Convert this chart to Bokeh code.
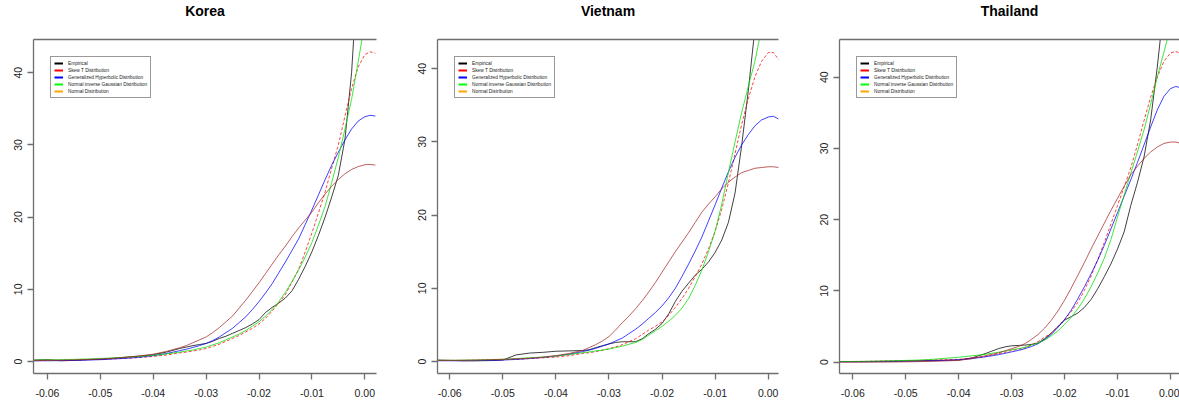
from bokeh.plotting import figure
from bokeh.models import Range1d, LinearAxis, Legend, LegendItem, FixedTicker, NumeralTickFormatter
from bokeh.layouts import row
from bokeh.embed import file_html
from bokeh.resources import INLINE

# ---------------- data ----------------
X = [-0.0625, -0.06, -0.0575, -0.055, -0.0525, -0.05, -0.0475, -0.045, -0.0425, -0.04, -0.0375,
     -0.035, -0.03375, -0.0325, -0.03125, -0.03, -0.02875, -0.0275, -0.02625, -0.025, -0.02375,
     -0.0225, -0.02125, -0.02, -0.01875, -0.0175, -0.01625, -0.015, -0.01375, -0.0125, -0.01125,
     -0.01, -0.00875, -0.0075, -0.00625, -0.005, -0.00375, -0.0025, -0.00125, 0.0, 0.001, 0.002]

titles = ["Korea", "Vietnam", "Thailand"]

korea_emp = [0.2, 0.25, 0.1, 0.15, 0.25, 0.3, 0.45, 0.6, 0.75, 0.95, 1.3,
             1.8, 2.0, 2.2, 2.35, 2.5, 2.8, 3.2, 3.5, 3.9, 4.3, 4.7, 5.2, 5.8, 6.8, 7.5, 8.1, 8.8,
             9.8, 11.4, 13.2, 15.2, 17.5, 20.0, 22.8, 25.8, 30.8, 40.0, 55, 70, 80, 90]
korea_skt = [0.15, 0.15, 0.18, 0.2, 0.25, 0.3, 0.37, 0.45, 0.55, 0.7, 0.9,
             1.2, 1.3, 1.45, 1.6, 1.8, 2.1, 2.4, 2.8, 3.2, 3.6, 4.1, 4.6, 5.2, 6.0, 7.0, 8.1, 9.3,
             11.0, 12.8, 15.2, 17.8, 20.6, 23.5, 26.8, 30.0, 34.0, 37.8, 40.8, 42.5, 42.9, 42.7]
korea_gh = [0.1, 0.1, 0.12, 0.15, 0.2, 0.25, 0.35, 0.45, 0.6, 0.8, 1.1,
            1.5, 1.7, 1.95, 2.2, 2.5, 2.9, 3.4, 4.0, 4.6, 5.4, 6.2, 7.2, 8.3, 9.5, 10.8, 12.3, 13.8,
            15.4, 17.0, 19.0, 21.0, 23.1, 25.2, 27.2, 29.0, 30.7, 32.2, 33.3, 33.9, 34.1, 34.0]
korea_nig = [0.2, 0.22, 0.25, 0.3, 0.35, 0.42, 0.5, 0.6, 0.7, 0.85, 1.05,
             1.3, 1.45, 1.6, 1.8, 2.0, 2.3, 2.6, 3.0, 3.4, 3.8, 4.3, 4.9, 5.5, 6.3, 7.2, 8.3, 9.6,
             11.1, 12.7, 14.5, 16.5, 18.9, 21.5, 24.8, 28.3, 32.2, 36.3, 41.5, 47.0, 51, 55]
korea_norm = [0.1, 0.15, 0.18, 0.22, 0.28, 0.35, 0.45, 0.6, 0.78, 1.0, 1.4,
              1.9, 2.2, 2.6, 3.0, 3.4, 4.0, 4.7, 5.5, 6.3, 7.4, 8.5, 9.7, 10.9, 12.2, 13.5, 14.8, 16.0,
              17.3, 18.5, 19.6, 20.7, 22.0, 23.2, 24.3, 25.2, 26.0, 26.6, 27.0, 27.25, 27.3, 27.2]

vietnam_emp = [0.2, 0.15, 0.1, 0.1, 0.12, 0.2, 0.9, 1.15, 1.25, 1.4, 1.45,
               1.5, 1.6, 1.9, 2.15, 2.4, 2.6, 2.7, 2.7, 2.7, 3.1, 3.8, 4.4, 5.2, 6.5, 8.2, 9.6, 10.7,
               11.8, 12.6, 13.6, 14.9, 16.6, 19.0, 23.0, 29.5, 37.0, 45.5, 60, 80, 90, 95]
vietnam_skt = [0.15, 0.15, 0.15, 0.18, 0.2, 0.25, 0.3, 0.4, 0.5, 0.6, 0.8,
               1.1, 1.2, 1.35, 1.55, 1.75, 2.0, 2.3, 2.7, 3.1, 3.7, 4.3, 4.8, 5.4, 6.3, 7.4, 8.6, 10.0,
               11.6, 13.3, 15.4, 17.8, 20.8, 24.4, 28.4, 32.4, 35.9, 38.9, 41.0, 42.2, 42.2, 41.2]
vietnam_gh = [0.1, 0.1, 0.1, 0.12, 0.15, 0.2, 0.28, 0.4, 0.55, 0.75, 1.0,
              1.35, 1.55, 1.8, 2.1, 2.4, 2.8, 3.2, 3.8, 4.4, 5.1, 5.9, 6.7, 7.6, 8.7, 10.0, 11.6, 13.3,
              15.1, 17.0, 19.2, 21.4, 23.7, 25.9, 27.9, 29.6, 31.0, 32.2, 33.0, 33.4, 33.5, 33.1]
vietnam_nig = [0.15, 0.15, 0.18, 0.2, 0.25, 0.3, 0.4, 0.5, 0.6, 0.75, 0.95,
               1.2, 1.3, 1.45, 1.55, 1.7, 1.9, 2.1, 2.35, 2.6, 3.0, 3.6, 4.2, 4.8, 5.5, 6.3, 7.3, 8.6,
               10.4, 12.5, 15.0, 17.8, 21.5, 25.8, 30.0, 34.0, 37.6, 41.0, 45.5, 50, 53, 56]
vietnam_norm = [0.15, 0.15, 0.17, 0.2, 0.25, 0.3, 0.37, 0.45, 0.6, 0.8, 1.1,
                1.5, 1.9, 2.3, 2.8, 3.4, 4.3, 5.3, 6.2, 7.2, 8.3, 9.5, 10.8, 12.2, 13.6, 15.0, 16.3, 17.6,
                19.0, 20.4, 21.5, 22.5, 23.6, 24.5, 25.2, 25.8, 26.1, 26.4, 26.5, 26.6, 26.6, 26.5]

thailand_emp = [0.1, 0.1, 0.1, 0.12, 0.15, 0.2, 0.22, 0.25, 0.28, 0.3, 0.6,
                1.2, 1.55, 1.9, 2.15, 2.3, 2.35, 2.4, 2.5, 2.7, 3.3, 4.1, 5.0, 5.9, 6.4, 6.9, 7.7, 8.8,
                10.3, 12.0, 13.8, 15.9, 18.3, 22.0, 25.2, 28.8, 34.0, 41.4, 50, 60, 68, 75]
thailand_skt = [0.1, 0.1, 0.12, 0.15, 0.18, 0.2, 0.25, 0.3, 0.35, 0.4, 0.6,
                0.8, 1.0, 1.2, 1.4, 1.65, 1.8, 2.0, 2.4, 2.9, 3.5, 4.1, 5.0, 6.0, 7.1, 8.4, 10.1, 12.1,
                14.4, 16.8, 19.4, 22.0, 24.6, 27.3, 30.5, 33.9, 37.2, 40.0, 42.2, 43.4, 43.6, 43.3]
thailand_gh = [0.05, 0.05, 0.06, 0.08, 0.1, 0.12, 0.15, 0.2, 0.25, 0.35, 0.5,
               0.75, 0.9, 1.05, 1.25, 1.45, 1.65, 1.9, 2.2, 2.6, 3.2, 3.9, 4.9, 6.0, 7.3, 8.9, 10.6, 12.4,
               14.3, 16.4, 18.7, 21.0, 23.3, 25.6, 28.0, 30.5, 33.0, 35.4, 37.3, 38.4, 38.7, 38.5]
thailand_nig = [0.1, 0.1, 0.12, 0.15, 0.2, 0.25, 0.3, 0.4, 0.55, 0.7, 0.9,
                1.1, 1.25, 1.4, 1.55, 1.75, 1.9, 2.1, 2.4, 2.7, 3.1, 3.7, 4.4, 5.3, 6.3, 7.5, 8.9, 10.6,
                12.5, 14.6, 17.2, 20.4, 23.5, 26.5, 29.5, 32.6, 36.2, 40.0, 43.5, 47.0, 50, 52]
thailand_norm = [0.0, 0.0, 0.01, 0.02, 0.03, 0.05, 0.08, 0.12, 0.18, 0.25, 0.5,
                 0.9, 1.1, 1.3, 1.6, 1.9, 2.2, 2.6, 3.2, 3.9, 4.8, 5.9, 7.2, 8.7, 10.4, 12.2, 14.0, 15.9,
                 17.7, 19.5, 21.3, 23.0, 24.7, 26.3, 27.5, 28.6, 29.5, 30.2, 30.7, 30.9, 30.9, 30.7]

x_ticks = [-0.06, -0.05, -0.04, -0.03, -0.02, -0.01, 0.0]
y_ticks = [0, 10, 20, 30, 40]

legend_labels = ["Empirical", "Skew T Distribution", "Generalized Hyperbolic Distribution",
                 "Normal inverse Gaussian Distribution", "Normal Distribution"]

series = [
    (korea_emp, korea_skt, korea_gh, korea_nig, korea_norm),
    (vietnam_emp, vietnam_skt, vietnam_gh, vietnam_nig, vietnam_norm),
    (thailand_emp, thailand_skt, thailand_gh, thailand_nig, thailand_norm),
]
for grp in series:
    for s in grp:
        assert len(s) == len(X)

# ---------------- styling / layout ----------------
legend_colors = ["#000000", "#FF0000", "#0000FF", "#00FF00", "#FFA500"]
curve_colors = ["#000000", "#FF0000", "#0000FF", "#00DD00", "#A52A2A"]
curve_dash = ["solid", "3 2", "solid", "solid", "solid"]

# (figure width, min_border_left, min_border_right, x_range, y_range)
panels = [
    (393, 33, 17, (-0.06263, 0.00221), (-1.662, 44.60)),
    (393, 44, 8, (-0.06231, 0.00194), (-1.639, 43.99)),
    (393, 53, 0, (-0.06251, 0.00170), (-1.586, 45.29)),
]

BOX = "#6e6e6e"
FONT = "Liberation Sans"

figs = []
for title, data, (w, bl, br, xr, yr) in zip(titles, series, panels):
    p = figure(width=w, height=403, output_backend="svg", toolbar_location=None,
               x_range=Range1d(*xr), y_range=Range1d(*yr),
               min_border_left=bl, min_border_right=br, min_border_top=39, min_border_bottom=30)
    p.outline_line_color = None
    p.grid.visible = False
    p.background_fill_color = "white"
    p.border_fill_color = "white"

    p.title.text = title
    p.title.align = "center"
    p.title.text_font = FONT
    p.title.text_font_size = "14px"
    p.title.text_font_style = "bold"
    p.title.text_color = "#000000"
    p.title.standoff = 0

    for ax in (p.xaxis[0], p.yaxis[0]):
        ax.axis_line_color = BOX
        ax.axis_line_width = 1.3
        ax.major_tick_line_color = BOX
        ax.major_tick_line_width = 1.3
        ax.major_tick_out = 6
        ax.major_tick_in = 0
        ax.minor_tick_line_color = None
        ax.major_label_text_font = FONT
        ax.major_label_text_font_size = "10.5px"
        ax.major_label_text_color = "#222222"
    p.xaxis[0].ticker = FixedTicker(ticks=x_ticks)
    p.xaxis[0].formatter = NumeralTickFormatter(format="0.00")
    p.xaxis[0].major_label_standoff = 9
    p.yaxis[0].ticker = FixedTicker(ticks=y_ticks)
    p.yaxis[0].major_label_orientation = "vertical"
    p.yaxis[0].major_label_standoff = 5

    # top edge of the box; a blank axis label with a standoff reserves space,
    # which pushes the title up to where the reference has it
    top = LinearAxis(ticker=FixedTicker(ticks=[]), axis_line_color=BOX, axis_line_width=1.3,
                     major_label_text_font_size="0px", major_tick_line_color=None,
                     minor_tick_line_color=None, major_tick_out=0, major_tick_in=0,
                     major_label_standoff=0,
                     axis_label=" ", axis_label_text_font_size="3px",
                     axis_label_text_color="white", axis_label_standoff=15)
    p.add_layout(top, "above")

    for ys, col, dash in zip(data, curve_colors, curve_dash):
        p.line(X, ys, line_color=col, line_width=1, line_alpha=0.75, line_dash=dash)

    items = []
    for lab, col, ys in zip(legend_labels, legend_colors, data):
        # single-point line: draws nothing in the plot, only provides the legend swatch
        r = p.line(x=X[:1], y=ys[:1], line_color=col, line_width=2)
        items.append(LegendItem(label=lab, renderers=[r]))
    leg = Legend(items=items, location="top_left", margin=17, padding=3, spacing=1,
                 glyph_width=9, glyph_height=6, label_height=6, label_standoff=5,
                 label_text_font=FONT, label_text_font_size="4.8px", label_text_color="#222222",
                 border_line_color="#333333", border_line_width=1, background_fill_color="white",
                 background_fill_alpha=1.0)
    p.add_layout(leg)
    figs.append(p)

layout = row(*figs, spacing=0)
open("out.html", "w").write(file_html(layout, INLINE))
